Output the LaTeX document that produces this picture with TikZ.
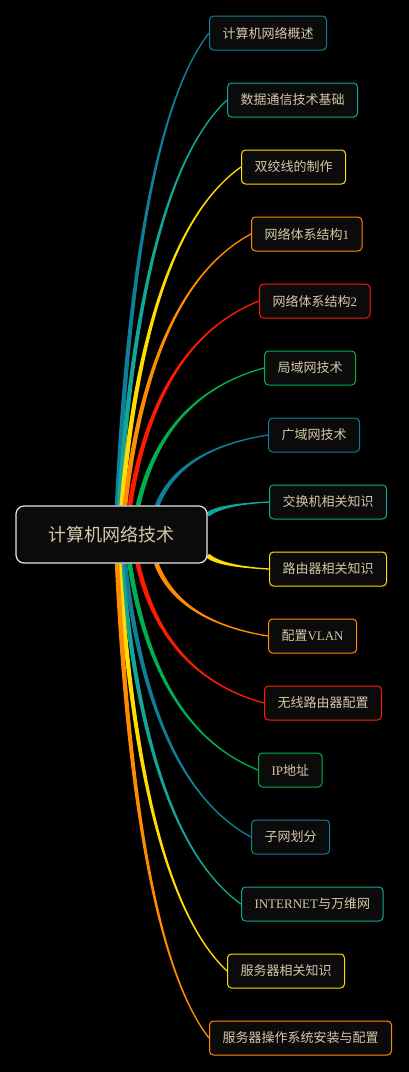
\documentclass[tikz,border=0pt]{standalone}
\usepackage{fontspec}
\setmainfont{Liberation Serif}
\newfontfamily\cjk{Noto Sans CJK SC}
\usetikzlibrary{calc}

\pgfdeclarelayer{back}
\pgfsetlayers{back,main}

\definecolor{mapblue}{RGB}{16,126,150}
\definecolor{mapteal}{RGB}{18,166,152}
\definecolor{mapyellow}{RGB}{255,221,0}
\definecolor{maporange}{RGB}{255,140,0}
\definecolor{mapred}{RGB}{255,26,0}
\definecolor{mapgreen}{RGB}{0,176,80}
\definecolor{beige}{RGB}{214,199,168}
\definecolor{boxfill}{RGB}{11,11,11}
\definecolor{rootline}{RGB}{232,232,232}

\begin{document}
\begin{tikzpicture}[x=1pt,y=-1pt,
    rootbox/.style={draw=rootline, line width=1.2pt, rounded corners=8pt, fill=boxfill,
      text=beige, minimum width=191pt, minimum height=57pt, inner sep=0pt,
      font=\cjk\fontsize{18}{22}\selectfont},
    topicbox/.style={draw=#1, line width=1pt, rounded corners=4pt, fill=boxfill,
      text=beige, anchor=west, minimum height=34pt, inner xsep=13pt, inner ysep=0pt,
      font=\cjk\fontsize{13}{15}\selectfont}]
  \begin{pgfonlayer}{back}
    \fill[black] (0,0) rectangle (409,1072);
  \end{pgfonlayer}
  \useasboundingbox (0,0) rectangle (409,1072);

  % central topic
  \node[rootbox] (root) at (111.5,534.5) {计算机网络技术};

  % subtopics, top to bottom
  \node[topicbox=mapblue]   (intro)    at (209,33)   {计算机网络概述};
  \node[topicbox=mapteal]   (comm)     at (227,100)  {数据通信技术基础};
  \node[topicbox=mapyellow] (cable)    at (241,167)  {双绞线的制作};
  \node[topicbox=maporange] (archa)    at (251,234)  {网络体系结构{\rmfamily 1}};
  \node[topicbox=mapred]    (archb)    at (259,301)  {网络体系结构{\rmfamily 2}};
  \node[topicbox=mapgreen]  (lan)      at (264,368)  {局域网技术};
  \node[topicbox=mapblue]   (wan)      at (268,435)  {广域网技术};
  \node[topicbox=mapteal]   (switch)   at (269,502)  {交换机相关知识};
  \node[topicbox=mapyellow] (router)   at (269,569)  {路由器相关知识};
  \node[topicbox=maporange] (vlan)     at (268,636)  {配置{\rmfamily VLAN}};
  \node[topicbox=mapred]    (wifi)     at (264,703)  {无线路由器配置};
  \node[topicbox=mapgreen]  (ipaddr)   at (258,770)  {{\rmfamily IP}地址};
  \node[topicbox=mapblue]   (subnet)   at (251,837)  {子网划分};
  \node[topicbox=mapteal]   (www)      at (241,904)  {{\rmfamily INTERNET}与万维网};
  \node[topicbox=mapyellow] (server)   at (227,971)  {服务器相关知识};
  \node[topicbox=maporange] (serveros) at (209,1038) {服务器操作系统安装与配置};

  % tapered branches, wide at the root and thin at the topic
  \begin{pgfonlayer}{back}
  \foreach \n/\col in {intro/mapblue, comm/mapteal, cable/mapyellow, archa/maporange,
      archb/mapred, lan/mapgreen, wan/mapblue, switch/mapteal, router/mapyellow,
      vlan/maporange, wifi/mapred, ipaddr/mapgreen, subnet/mapblue, www/mapteal,
      server/mapyellow, serveros/maporange}{
    \path (root) -- (\n.west) coordinate[pos=0] (s);
    \coordinate (e) at (\n.west);
    \coordinate (ca) at ($(s)!0.2!(e)$);
    \coordinate (cb) at ($(s)!0.8!(e)$);
    \coordinate (c) at (ca |- cb);
    \coordinate (p) at ($(s)!0.6667!(c)$);
    \coordinate (q) at ($(e)!0.6667!(c)$);
    \coordinate (sl) at ($(s)!2.3pt!90:(c)$);
    \coordinate (sr) at ($(s)!2.3pt!-90:(c)$);
    \coordinate (el) at ($(e)!0.65pt!-90:(c)$);
    \coordinate (er) at ($(e)!0.65pt!90:(c)$);
    \fill[\col] (sl) .. controls ($(p)+(sl)-(s)$) and ($(q)+(el)-(e)$) .. (el)
      -- (er) .. controls ($(q)+(er)-(e)$) and ($(p)+(sr)-(s)$) .. (sr) -- cycle;
  }
  \end{pgfonlayer}
\end{tikzpicture}
\end{document}
